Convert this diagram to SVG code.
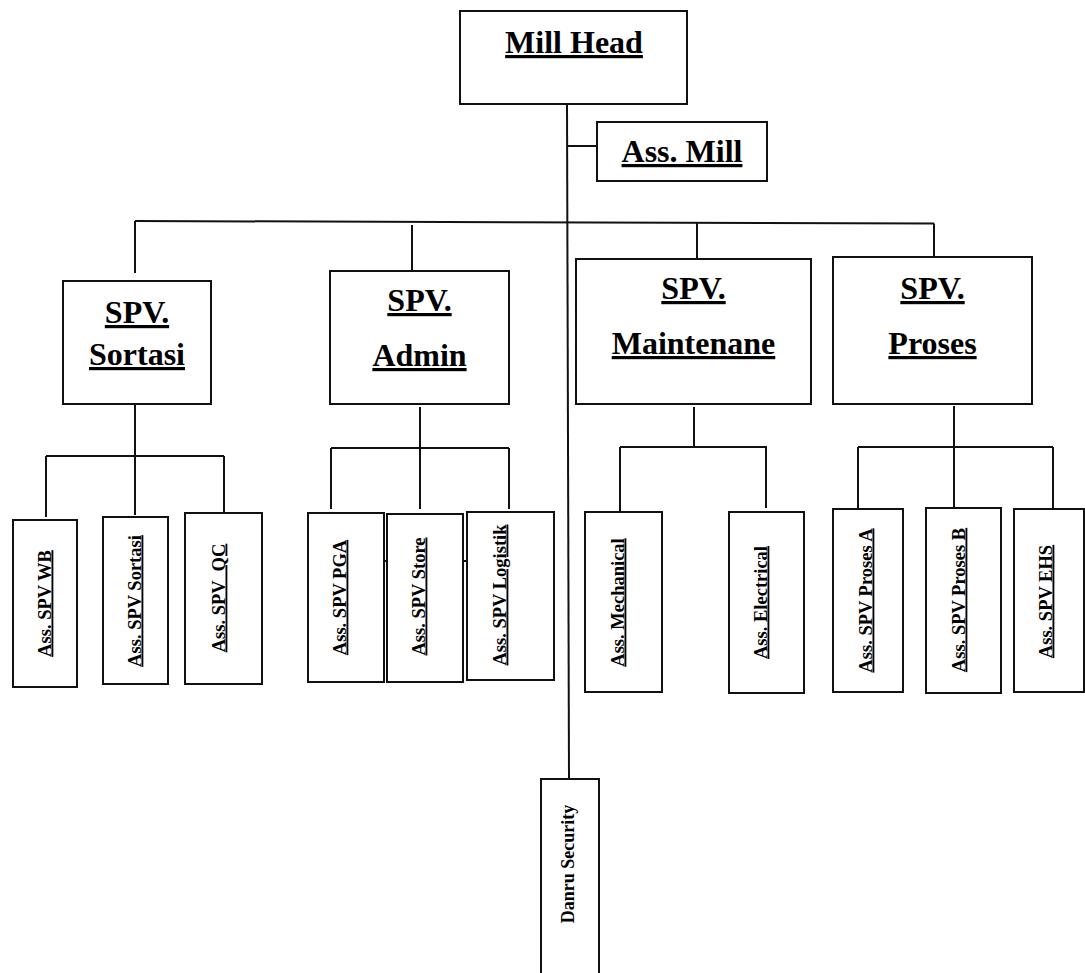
<svg xmlns="http://www.w3.org/2000/svg" width="1085" height="973" viewBox="0 0 1085 973">
<style>
.box{fill:#fff;stroke:#111;stroke-width:2}
.ln{fill:none;stroke:#111;stroke-width:2}
.big{font-family:"Liberation Serif","Times New Roman",serif;font-weight:bold;font-size:32px;text-anchor:middle;text-decoration:underline;fill:#000}
.sm{font-family:"Liberation Serif","Times New Roman",serif;font-weight:bold;font-size:18.5px;text-anchor:middle;text-decoration:underline;fill:#000}
.sm2{font-family:"Liberation Serif","Times New Roman",serif;font-weight:bold;font-size:18px;text-anchor:middle;fill:#000}
</style>
<rect width="1085" height="973" fill="#fff"/>
<g id="connectors">
<line class="ln" x1="567" y1="104" x2="569" y2="779"/>
<line class="ln" x1="567" y1="146" x2="597" y2="146"/>
<line class="ln" x1="135" y1="221" x2="934" y2="223.5"/>
<line class="ln" x1="135" y1="221" x2="135" y2="273"/>
<line class="ln" x1="412" y1="225" x2="412" y2="272"/>
<line class="ln" x1="697" y1="223" x2="697" y2="259"/>
<line class="ln" x1="934" y1="223.5" x2="934" y2="257"/>
<!-- Sortasi -->
<line class="ln" x1="135" y1="404" x2="135" y2="515"/>
<line class="ln" x1="46" y1="456" x2="224" y2="456"/>
<line class="ln" x1="46" y1="456" x2="46" y2="517"/>
<line class="ln" x1="224" y1="456" x2="224" y2="517"/>
<!-- Admin -->
<line class="ln" x1="420" y1="407" x2="420" y2="509"/>
<line class="ln" x1="331" y1="448" x2="509" y2="448"/>
<line class="ln" x1="331" y1="448" x2="331" y2="509"/>
<line class="ln" x1="509" y1="448" x2="509" y2="509"/>
<line class="ln" x1="384" y1="561" x2="387" y2="561"/>
<line class="ln" x1="463" y1="561" x2="467" y2="561"/>
<!-- Maintenance -->
<line class="ln" x1="694" y1="407" x2="694" y2="447"/>
<line class="ln" x1="620" y1="447" x2="767" y2="447"/>
<line class="ln" x1="620" y1="447" x2="620" y2="512"/>
<line class="ln" x1="766" y1="447" x2="766" y2="508"/>
<!-- Proses -->
<line class="ln" x1="954" y1="406" x2="954" y2="507"/>
<line class="ln" x1="858" y1="447" x2="1053" y2="447"/>
<line class="ln" x1="858" y1="447" x2="858" y2="509"/>
<line class="ln" x1="1053" y1="447" x2="1053" y2="509"/>
</g>
<g id="mill-head"><rect class="box" x="460" y="11" width="227" height="93"/><text class="big" x="574" y="53">Mill Head</text></g>
<g id="ass-mill"><rect class="box" x="597" y="122" width="170" height="59"/><text class="big" x="682" y="162">Ass. Mill</text></g>
<g id="spv-sortasi"><rect class="box" x="63" y="281" width="148" height="123"/><text class="big" x="137" y="323">SPV.</text><text class="big" x="137" y="365">Sortasi</text></g>
<g id="spv-admin"><rect class="box" x="330" y="271" width="179" height="133"/><text class="big" x="419.5" y="311">SPV.</text><text class="big" x="419.5" y="366">Admin</text></g>
<g id="spv-maintenane"><rect class="box" x="576" y="259" width="235" height="145"/><text class="big" x="693.5" y="299">SPV.</text><text class="big" x="693.5" y="354">Maintenane</text></g>
<g id="spv-proses"><rect class="box" x="833" y="257" width="199" height="147"/><text class="big" x="932.5" y="299">SPV.</text><text class="big" x="932.5" y="354">Proses</text></g>
<g id="ass-spv-wb"><rect class="box" x="13" y="520" width="64" height="167"/><text class="sm" transform="translate(50.5,603.5) rotate(-90)">Ass. SPV WB</text></g>
<g id="ass-spv-sortasi"><rect class="box" x="103" y="517" width="65" height="167"/><text class="sm" transform="translate(140.5,601) rotate(-90)">Ass. SPV Sortasi</text></g>
<g id="ass-spv-qc"><rect class="box" x="185" y="513" width="77" height="171"/><text class="sm" xml:space="preserve" transform="translate(224.5,598) rotate(-90)">Ass. SPV  QC</text></g>
<g id="ass-spv-pga"><rect class="box" x="308" y="513" width="76" height="169"/><text class="sm" transform="translate(345.5,597.5) rotate(-90)">Ass. SPV PGA</text></g>
<g id="ass-spv-store"><rect class="box" x="387" y="514" width="76" height="168"/><text class="sm" transform="translate(424.5,596.5) rotate(-90)">Ass. SPV Store</text></g>
<g id="ass-spv-logistik"><rect class="box" x="467" y="512" width="87" height="168"/><text class="sm" transform="translate(505.5,595) rotate(-90)">Ass. SPV Logistik</text></g>
<g id="ass-mechanical"><rect class="box" x="585" y="512" width="77" height="180"/><text class="sm" transform="translate(623.5,602.5) rotate(-90)">Ass. Mechanical</text></g>
<g id="ass-electrical"><rect class="box" x="729" y="512" width="75" height="181"/><text class="sm" transform="translate(766.5,602.5) rotate(-90)">Ass. Electrical</text></g>
<g id="ass-spv-proses-a"><rect class="box" x="833" y="509" width="70" height="183"/><text class="sm" transform="translate(871.5,600.5) rotate(-90)">Ass. SPV Proses A</text></g>
<g id="ass-spv-proses-b"><rect class="box" x="926" y="508" width="75" height="185"/><text class="sm" transform="translate(964.5,600) rotate(-90)">Ass. SPV Proses B</text></g>
<g id="ass-spv-ehs"><rect class="box" x="1014" y="509" width="70" height="183"/><text class="sm" transform="translate(1051.5,601.5) rotate(-90)">Ass. SPV EHS</text></g>
<g id="danru-security"><rect class="box" x="541" y="779" width="58" height="200"/><text class="sm2" transform="translate(574,864) rotate(-90)">Danru Security</text></g>
</svg>
